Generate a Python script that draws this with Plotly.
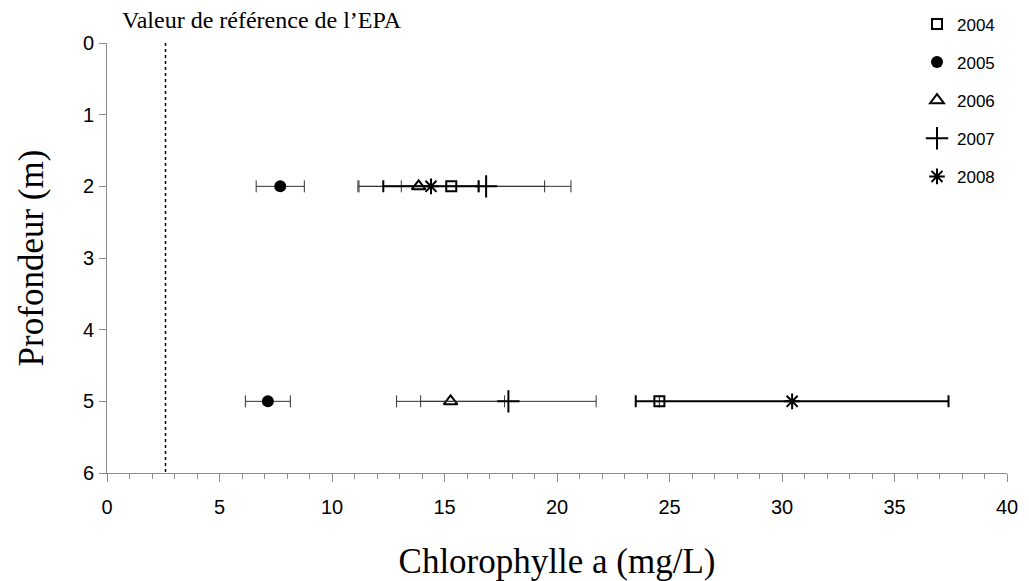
import plotly.graph_objects as go

# Sampling depths (m)
depths = [2, 5]

# Mean chlorophyll a (mg/L) and half-width of the horizontal error bars, per year
years = ["2004", "2005", "2006", "2007", "2008"]
chl_2004 = [15.3, 24.55]
err_2004 = [4.15, 0.0]
chl_2005 = [7.7, 7.15]
err_2005 = [1.07, 1.0]
chl_2006 = [13.85, 15.27]
err_2006 = [2.65, 2.4]
chl_2007 = [16.85, 17.84]
err_2007 = [3.77, 3.9]
chl_2008 = [14.4, 30.45]
err_2008 = [2.12, 6.95]

# EPA reference value (mg/L)
epa_ref = 2.6

x_ticks = [0, 5, 10, 15, 20, 25, 30, 35, 40]
y_ticks = [0, 1, 2, 3, 4, 5, 6]

series = [
    ("2004", chl_2004, err_2004, dict(symbol="square-open", size=10, color="black", line=dict(width=2, color="black")), "#333333", 1),
    ("2005", chl_2005, err_2005, dict(symbol="circle", size=12, color="black", line=dict(width=0)), "#333333", 1),
    ("2006", chl_2006, err_2006, dict(symbol="triangle-up-open", size=12, color="black", line=dict(width=2, color="black")), "#333333", 1),
    ("2007", chl_2007, err_2007, dict(symbol="cross-thin-open", size=16, color="black", line=dict(width=2, color="black")), "#333333", 1),
    ("2008", chl_2008, err_2008, dict(symbol="asterisk-open", size=13, color="black", line=dict(width=2, color="black")), "#000000", 2),
]

fig = go.Figure()
for name, xs, errs, marker, ecol, eth in series:
    fig.add_trace(go.Scatter(
        x=xs, y=depths, mode="markers", name=name,
        legendgroup=name,
        marker=marker,
        error_x=dict(type="data", array=errs, visible=True,
                     color=ecol, thickness=eth, width=6),
    ))

# EPA reference line
fig.add_shape(type="line", x0=epa_ref, x1=epa_ref, y0=0, y1=6,
              xref="x", yref="y", line=dict(color="black", width=1.5, dash="dot"))

fig.add_annotation(text="Valeur de référence de l’EPA", xref="paper", yref="paper",
                   x=0.014, y=1.0, xanchor="left", yanchor="bottom", yshift=8,
                   showarrow=False,
                   font=dict(family="Liberation Serif", size=24, color="black"))

axis_col = "#8c8c8c"
tick_font = dict(family="Liberation Sans", size=20, color="black")
title_font = dict(family="Liberation Serif", size=35, color="black")
fig.update_layout(
    width=1029, height=581,
    margin=dict(l=107, r=22, t=43, b=108, autoexpand=False),
    paper_bgcolor="white", plot_bgcolor="white",
    font=dict(family="Liberation Sans", size=18, color="black"),
    showlegend=True,
    legend=dict(x=0.90, y=1.085, xanchor="left", yanchor="top",
                font=dict(family="Liberation Sans", size=17, color="black"),
                tracegroupgap=13, bgcolor="rgba(0,0,0,0)"),
    xaxis=dict(range=[0, 40], tickvals=x_ticks, showgrid=False, zeroline=False,
               showline=True, linecolor=axis_col, linewidth=1,
               ticks="outside", ticklen=8, tickcolor=axis_col,
               tickfont=tick_font, ticklabelstandoff=8, automargin=False,
               minor=dict(dtick=1, ticks="outside", ticklen=5, tickcolor=axis_col),
               title=dict(text="Chlorophylle a (mg/L)", standoff=32, font=title_font)),
    yaxis=dict(range=[6, 0], tickvals=y_ticks, showgrid=False, zeroline=False,
               showline=True, linecolor=axis_col, linewidth=1,
               ticks="outside", ticklen=7, tickcolor=axis_col,
               tickfont=tick_font, ticklabelstandoff=1, automargin=False,
               title=dict(text="Profondeur (m)", standoff=28, font=title_font)),
)

fig.write_html("out.html")
